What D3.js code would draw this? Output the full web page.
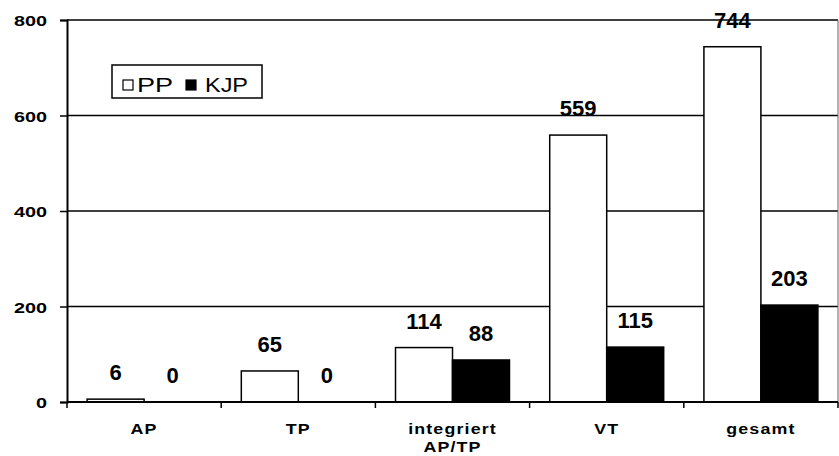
<!DOCTYPE html>
<html><head><meta charset="utf-8">
<script src="https://cdn.jsdelivr.net/npm/d3@7/dist/d3.min.js"></script>
<style>body{margin:0;background:#fff}svg{display:block}</style>
</head><body>
<svg id="c" width="839" height="456"></svg>
<script>
const categories = [["AP"], ["TP"], ["integriert", "AP/TP"], ["VT"], ["gesamt"]];
const seriesNames = ["PP", "KJP"];
const ppValues = [6, 65, 114, 559, 744];
const kjpValues = [0, 0, 88, 115, 203];
const yTicks = [0, 200, 400, 600, 800];

const svg = d3.select("#c");
const FONT = "Liberation Sans, Arial, sans-serif";
const L = 67, R = 838, T = 20, B = 402;
const x = d3.scaleBand().domain(d3.range(categories.length)).range([L, R]).padding(0);
const y = d3.scaleLinear().domain([0, 800]).range([B, T]);
const inner = d3.scaleBand().domain(seriesNames).range([0, x.bandwidth()]).paddingInner(0).paddingOuter(0.353);

// gridlines
svg.append("g").selectAll("line").data(yTicks.filter(d => d > 0)).join("line")
  .attr("x1", L).attr("x2", R).attr("y1", d => y(d)).attr("y2", d => y(d))
  .attr("stroke", "#000").attr("stroke-width", 1.5);
// right border
svg.append("line").attr("x1", R).attr("x2", R).attr("y1", T).attr("y2", B)
  .attr("stroke", "#666").attr("stroke-width", 1);

const data = [];
categories.forEach((c, i) => {
  data.push({i, s: "PP", v: ppValues[i]});
  data.push({i, s: "KJP", v: kjpValues[i]});
});

svg.append("g").selectAll("rect").data(data).join("rect")
  .attr("x", d => x(d.i) + inner(d.s))
  .attr("width", inner.bandwidth())
  .attr("y", d => y(d.v))
  .attr("height", d => y(0) - y(d.v))
  .attr("fill", d => d.s === "PP" ? "#fff" : "#000")
  .attr("stroke", "#000").attr("stroke-width", 1.5);

svg.append("g").selectAll("text").data(data).join("text")
  .attr("x", d => x(d.i) + inner(d.s) + inner.bandwidth() / 2)
  .attr("y", d => y(d.v) - 19)
  .attr("text-anchor", "middle")
  .attr("font-family", FONT)
  .attr("font-weight", "bold").attr("font-size", 22)
  .text(d => d.v);

// y axis
const ya = svg.append("g").attr("transform", `translate(${L},0)`)
  .call(d3.axisLeft(y).tickValues(yTicks).tickSize(7).tickPadding(13));
ya.select(".domain").attr("stroke-width", 2);
ya.selectAll(".tick line").attr("stroke-width", 1.5);
ya.selectAll("text")
  .attr("x", 0).attr("dy", null).attr("y", 5.5)
  .attr("transform", "translate(-20,0) scale(1.32,1)")
  .attr("font-family", FONT)
  .attr("font-weight", "bold").attr("font-size", 15);

// x axis
svg.append("line").attr("x1", L).attr("x2", R).attr("y1", B).attr("y2", B)
  .attr("stroke", "#000").attr("stroke-width", 2);
svg.append("g").selectAll("line").data(d3.range(categories.length + 1)).join("line")
  .attr("x1", i => L + i * x.step()).attr("x2", i => L + i * x.step())
  .attr("y1", B).attr("y2", B + 6).attr("stroke", "#000").attr("stroke-width", 1.5);

const xl = svg.append("g").selectAll("text").data(categories).join("text")
  .attr("transform", (d, i) => `translate(${x(i) + x.bandwidth() / 2},434) scale(1.15,1)`)
  .attr("text-anchor", "middle")
  .attr("font-family", FONT)
  .attr("font-weight", "bold").attr("font-size", 15.5).attr("letter-spacing", 1);
xl.selectAll("tspan").data(d => d).join("tspan")
  .attr("x", 0)
  .attr("dy", (d, j) => j === 0 ? 0 : 18)
  .text(d => d);

// legend
const lg = svg.append("g");
lg.append("rect").attr("x", 112).attr("y", 65).attr("width", 150).attr("height", 33)
  .attr("fill", "#fff").attr("stroke", "#000").attr("stroke-width", 1.5);
const items = [{s: "PP", x: 123, fill: "#fff", w: 36}, {s: "KJP", x: 186, fill: "#000", w: 43}];
items.forEach(it => {
  lg.append("rect").attr("x", it.x).attr("y", 80).attr("width", 10).attr("height", 10)
    .attr("fill", it.fill).attr("stroke", "#000").attr("stroke-width", 1.2);
  lg.append("text").attr("x", it.x + 14 + (it.s === "KJP" ? 5 : 0)).attr("y", 92)
    .attr("font-family", FONT).attr("font-size", 21)
    .attr("textLength", it.w).attr("lengthAdjust", "spacingAndGlyphs")
    .text(it.s);
});
</script>
</body></html>
